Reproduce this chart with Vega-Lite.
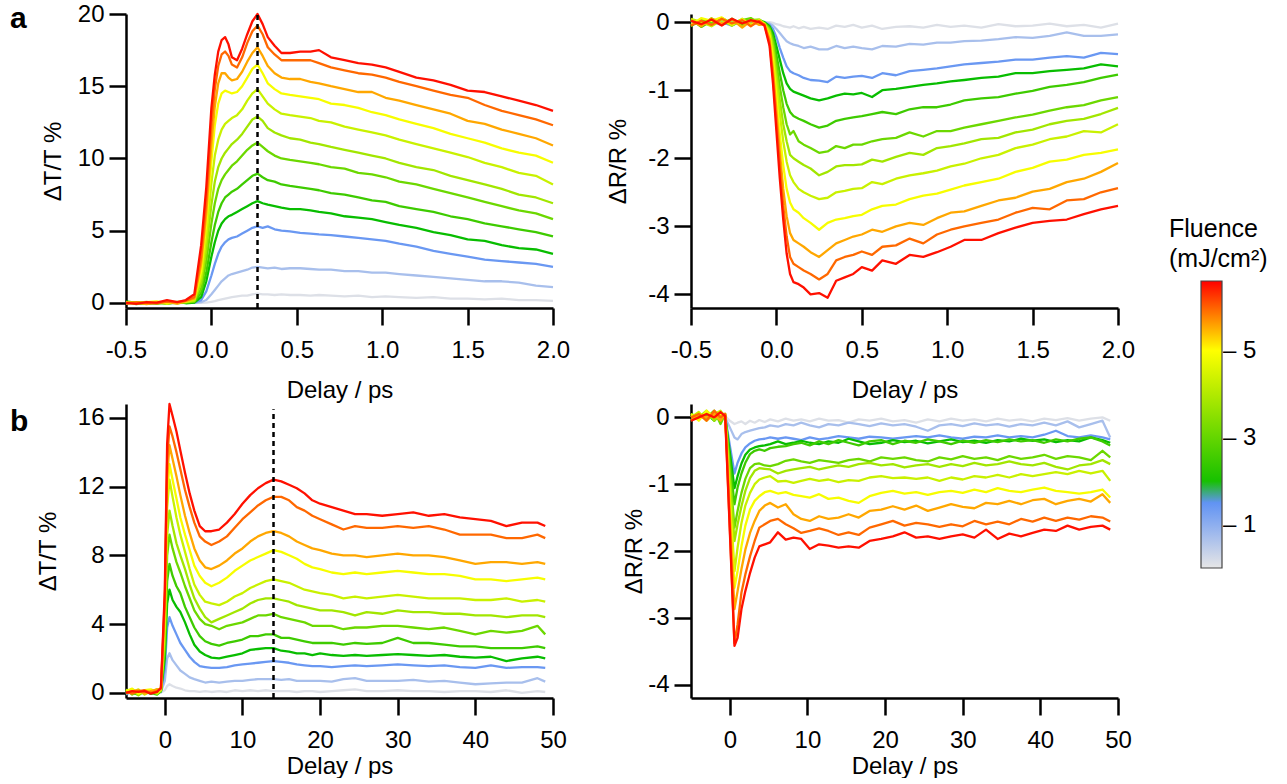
{
"$schema":"https://vega.github.io/schema/vega-lite/v6.json",
"background":"white",
"padding":{"left":10,"top":2,"right":0,"bottom":0},
"bounds":"flush",
"columns":2,
"spacing":{"row":96,"column":138},
"config":{"font":"Liberation Sans","view":{"stroke":null},
"axis":{"domainColor":"#000","domainWidth":2.5,"tickColor":"#000","tickWidth":2.5,"tickSize":17,"labelFont":"Liberation Sans","labelFontSize":24,"labelColor":"#000","titleFont":"Liberation Sans","titleFontSize":24,"titleFontWeight":"normal","titleColor":"#000","grid":false,"labelFlush":false,"labelOverlap":false,"labelPadding":5},
"axisX":{"labelPadding":13},
"legend":{"labelFont":"Liberation Sans","labelFontSize":24,"labelColor":"#000"}},
"title":{"text":["Fluence","(mJ/cm²)"],"anchor":"start","frame":"group","align":"left","baseline":"top","fontSize":25,"font":"Liberation Sans","fontWeight":"normal","color":"#000","lineHeight":30,"dx":1043,"dy":270,"offset":0},
"datasets":{
"fl":[{"k":"a","f":0.1},{"k":"b","f":0.7},{"k":"c","f":1.4},{"k":"d","f":1.8},{"k":"e","f":2.5},{"k":"f","f":3.1},{"k":"g","f":3.8},{"k":"h","f":4.3},{"k":"i","f":4.9},{"k":"j","f":5.55},{"k":"k","f":5.95},{"k":"l","f":6.5}],
"aT":[
{"t":-0.5,"a":0,"b":0.05,"c":-0.05,"d":0.1,"e":0.05,"f":0,"g":0.05,"h":-0.05,"i":0,"j":0.05,"k":-0.05,"l":0},
{"t":-0.44,"a":0.02,"b":-0.03,"c":0.05,"d":0,"e":-0.08,"f":0.05,"g":0,"h":0.06,"i":-0.05,"j":0,"k":0.04,"l":-0.06},
{"t":-0.38,"a":-0.02,"b":0.04,"c":0,"d":-0.06,"e":0.03,"f":-0.05,"g":0.08,"h":0,"i":0.05,"j":-0.08,"k":0,"l":0.05},
{"t":-0.32,"a":0,"b":-0.02,"c":0.06,"d":0.03,"e":-0.04,"f":0.06,"g":-0.05,"h":0.04,"i":0.1,"j":0.02,"k":-0.03,"l":0.02},
{"t":-0.26,"a":0.03,"b":0.02,"c":-0.04,"d":-0.05,"e":0.06,"f":0,"g":0.04,"h":-0.06,"i":-0.02,"j":0.08,"k":0.1,"l":0.2},
{"t":-0.2,"a":-0.02,"b":0,"c":0.03,"d":0.05,"e":0,"f":0.08,"g":-0.03,"h":0.05,"i":0.06,"j":-0.04,"k":0.06,"l":0.05},
{"t":-0.15,"a":0,"b":0.02,"c":0,"d":-0.02,"e":0.05,"f":0.02,"g":0.06,"h":0.08,"i":0.1,"j":0.12,"k":0.15,"l":0.2},
{"t":-0.1,"a":0,"b":0,"c":0.02,"d":0.03,"e":0.05,"f":0.1,"g":0.15,"h":0.2,"i":0.3,"j":0.3,"k":0.4,"l":0.6},
{"t":-0.06,"a":0,"b":0.05,"c":0.2,"d":0.4,"e":0.7,"f":1.0,"g":1.4,"h":1.8,"i":2.2,"j":2.7,"k":3.2,"l":4.0},
{"t":-0.03,"a":0.02,"b":0.2,"c":0.8,"d":1.5,"e":2.1,"f":2.9,"g":3.7,"h":4.5,"i":5.5,"j":6.2,"k":7.0,"l":8.0},
{"t":0,"a":0.08,"b":0.6,"c":1.9,"d":3.2,"e":4.2,"f":5.5,"g":6.8,"h":8.3,"i":9.8,"j":11.0,"k":12.3,"l":13.5},
{"t":0.02,"a":0.12,"b":0.9,"c":2.7,"d":4.2,"e":5.4,"f":6.9,"g":8.4,"h":10.2,"i":12.3,"j":13.6,"k":14.8,"l":15.8},
{"t":0.04,"a":0.2,"b":1.2,"c":3.4,"d":5.0,"e":6.3,"f":7.9,"g":9.4,"h":11.3,"i":13.8,"j":15.2,"k":16.4,"l":17.4},
{"t":0.06,"a":0.25,"b":1.5,"c":3.9,"d":5.5,"e":6.9,"f":8.5,"g":10.0,"h":12.0,"i":14.5,"j":15.9,"k":17.2,"l":18.2},
{"t":0.08,"a":0.3,"b":1.7,"c":4.2,"d":5.8,"e":7.3,"f":8.9,"g":10.4,"h":12.4,"i":14.7,"j":15.9,"k":17.4,"l":18.4},
{"t":0.1,"a":0.35,"b":1.9,"c":4.4,"d":6.0,"e":7.5,"f":9.2,"g":10.7,"h":12.6,"i":14.6,"j":15.6,"k":17.1,"l":17.9},
{"t":0.12,"a":0.4,"b":2.0,"c":4.5,"d":6.1,"e":7.7,"f":9.5,"g":11.0,"h":12.8,"i":14.5,"j":15.4,"k":16.5,"l":17.0},
{"t":0.15,"a":0.45,"b":2.1,"c":4.6,"d":6.3,"e":7.9,"f":9.8,"g":11.3,"h":13.0,"i":14.6,"j":15.5,"k":16.3,"l":16.8},
{"t":0.18,"a":0.5,"b":2.2,"c":4.8,"d":6.5,"e":8.2,"f":10.2,"g":11.7,"h":13.4,"i":15.0,"j":16.0,"k":17.0,"l":17.6},
{"t":0.21,"a":0.5,"b":2.3,"c":5.0,"d":6.7,"e":8.5,"f":10.6,"g":12.2,"h":14.0,"i":15.6,"j":16.7,"k":18.0,"l":18.6},
{"t":0.24,"a":0.6,"b":2.45,"c":5.2,"d":6.9,"e":8.8,"f":10.9,"g":12.7,"h":14.5,"i":16.2,"j":17.3,"k":18.8,"l":19.5},
{"t":0.27,"a":0.64,"b":2.5,"c":5.3,"d":7.05,"e":8.95,"f":11.1,"g":12.9,"h":14.8,"i":16.5,"j":17.7,"k":19.2,"l":20.0},
{"t":0.3,"a":0.6,"b":2.45,"c":5.2,"d":6.9,"e":8.7,"f":10.8,"g":12.6,"h":14.3,"i":15.9,"j":17.1,"k":18.6,"l":19.3},
{"t":0.33,"a":0.6,"b":2.4,"c":5.3,"d":6.8,"e":8.5,"f":10.5,"g":12.1,"h":13.8,"i":15.2,"j":16.4,"k":17.7,"l":18.4},
{"t":0.37,"a":0.55,"b":2.45,"c":5.1,"d":6.7,"e":8.4,"f":10.2,"g":11.8,"h":13.4,"i":14.8,"j":15.9,"k":17.2,"l":17.8},
{"t":0.41,"a":0.6,"b":2.35,"c":5.0,"d":6.6,"e":8.2,"f":10.0,"g":11.6,"h":13.1,"i":14.5,"j":15.6,"k":16.8,"l":17.3},
{"t":0.46,"a":0.55,"b":2.4,"c":4.95,"d":6.5,"e":8.1,"f":9.9,"g":11.4,"h":13.0,"i":14.4,"j":15.5,"k":16.8,"l":17.3},
{"t":0.52,"a":0.55,"b":2.4,"c":4.85,"d":6.5,"e":8.0,"f":9.8,"g":11.3,"h":12.9,"i":14.3,"j":15.5,"k":16.8,"l":17.4},
{"t":0.58,"a":0.5,"b":2.35,"c":4.8,"d":6.4,"e":7.9,"f":9.7,"g":11.1,"h":12.8,"i":14.2,"j":15.3,"k":16.8,"l":17.4},
{"t":0.63,"a":0.55,"b":2.3,"c":4.75,"d":6.3,"e":7.8,"f":9.6,"g":11.0,"h":12.6,"i":14.1,"j":15.2,"k":16.6,"l":17.5},
{"t":0.7,"a":0.5,"b":2.3,"c":4.7,"d":6.2,"e":7.6,"f":9.4,"g":10.8,"h":12.5,"i":13.8,"j":15.0,"k":16.3,"l":17.0},
{"t":0.78,"a":0.45,"b":2.2,"c":4.6,"d":6.0,"e":7.5,"f":9.3,"g":10.6,"h":12.2,"i":13.7,"j":14.8,"k":16.1,"l":16.8},
{"t":0.86,"a":0.5,"b":2.2,"c":4.5,"d":5.9,"e":7.3,"f":9.0,"g":10.4,"h":12.0,"i":13.5,"j":14.6,"k":15.9,"l":16.6},
{"t":0.94,"a":0.4,"b":2.1,"c":4.4,"d":5.8,"e":7.1,"f":8.9,"g":10.2,"h":11.8,"i":13.2,"j":14.6,"k":15.8,"l":16.5},
{"t":1.02,"a":0.45,"b":2.1,"c":4.3,"d":5.6,"e":7.0,"f":8.7,"g":10.0,"h":11.6,"i":13.0,"j":14.2,"k":15.6,"l":16.3},
{"t":1.1,"a":0.4,"b":2.0,"c":4.1,"d":5.4,"e":6.7,"f":8.4,"g":9.7,"h":11.3,"i":12.7,"j":14.0,"k":15.3,"l":16.0},
{"t":1.2,"a":0.35,"b":1.9,"c":3.9,"d":5.2,"e":6.5,"f":8.2,"g":9.4,"h":11.0,"i":12.4,"j":13.7,"k":15.0,"l":15.6},
{"t":1.3,"a":0.4,"b":1.8,"c":3.6,"d":4.9,"e":6.3,"f":7.9,"g":9.2,"h":10.7,"i":12.1,"j":13.4,"k":14.7,"l":15.4},
{"t":1.4,"a":0.3,"b":1.7,"c":3.4,"d":4.7,"e":6.0,"f":7.6,"g":8.8,"h":10.4,"i":11.7,"j":13.1,"k":14.4,"l":15.1},
{"t":1.5,"a":0.3,"b":1.6,"c":3.2,"d":4.4,"e":5.8,"f":7.3,"g":8.5,"h":10.1,"i":11.4,"j":12.6,"k":14.2,"l":14.7},
{"t":1.6,"a":0.25,"b":1.5,"c":3.0,"d":4.3,"e":5.5,"f":7.0,"g":8.2,"h":9.7,"i":11.1,"j":12.4,"k":13.7,"l":14.6},
{"t":1.7,"a":0.3,"b":1.5,"c":2.9,"d":4.0,"e":5.3,"f":6.7,"g":7.9,"h":9.4,"i":10.7,"j":12.0,"k":13.3,"l":14.3},
{"t":1.8,"a":0.2,"b":1.4,"c":2.8,"d":3.8,"e":5.1,"f":6.4,"g":7.5,"h":9.0,"i":10.4,"j":11.7,"k":13.0,"l":14.0},
{"t":1.9,"a":0.2,"b":1.2,"c":2.7,"d":3.7,"e":4.9,"f":6.2,"g":7.3,"h":8.8,"i":10.2,"j":11.4,"k":12.7,"l":13.7},
{"t":2.0,"a":0.14,"b":1.1,"c":2.5,"d":3.4,"e":4.6,"f":5.8,"g":6.9,"h":8.2,"i":9.7,"j":10.9,"k":12.3,"l":13.3}
],
"aR":[
{"t":-0.5,"a":0,"b":-0.02,"c":0.03,"d":-0.05,"e":0.04,"f":-0.06,"g":0.02,"h":0.05,"i":-0.04,"j":0.03,"k":-0.05,"l":0.02},
{"t":-0.44,"a":0.02,"b":0.03,"c":-0.04,"d":0.02,"e":-0.07,"f":0.05,"g":-0.05,"h":0,"i":0.06,"j":-0.06,"k":0.02,"l":-0.03},
{"t":-0.38,"a":-0.02,"b":0,"c":0.05,"d":-0.03,"e":0.02,"f":-0.02,"g":0.06,"h":-0.06,"i":0.02,"j":0.05,"k":-0.04,"l":0.04},
{"t":-0.32,"a":0.01,"b":-0.04,"c":0,"d":0.06,"e":-0.03,"f":0.04,"g":-0.04,"h":0.03,"i":0.07,"j":-0.02,"k":0.05,"l":-0.05},
{"t":-0.26,"a":0,"b":0.02,"c":-0.05,"d":-0.02,"e":0.05,"f":-0.05,"g":0.03,"h":-0.05,"i":-0.03,"j":0.04,"k":-0.02,"l":0.05},
{"t":-0.2,"a":0.02,"b":0,"c":0.03,"d":0.04,"e":-0.04,"f":0.03,"g":-0.06,"h":0.05,"i":0.04,"j":-0.08,"k":0.03,"l":-0.02},
{"t":-0.15,"a":-0.01,"b":0.03,"c":-0.02,"d":-0.04,"e":0.02,"f":0.06,"g":0.03,"h":-0.03,"i":-0.05,"j":0.02,"k":-0.06,"l":0.03},
{"t":-0.1,"a":0,"b":-0.02,"c":0.02,"d":0.03,"e":-0.02,"f":-0.02,"g":0.04,"h":0.02,"i":0.03,"j":-0.04,"k":0.02,"l":0},
{"t":-0.07,"a":0,"b":0,"c":-0.01,"d":0,"e":-0.01,"f":-0.02,"g":-0.02,"h":-0.02,"i":-0.03,"j":-0.03,"k":-0.04,"l":-0.05},
{"t":-0.04,"a":0,"b":-0.02,"c":-0.04,"d":-0.06,"e":-0.08,"f":-0.1,"g":-0.12,"h":-0.15,"i":-0.2,"j":-0.25,"k":-0.3,"l":-0.35},
{"t":-0.02,"a":-0.01,"b":-0.05,"c":-0.1,"d":-0.16,"e":-0.22,"f":-0.28,"g":-0.35,"h":-0.45,"i":-0.55,"j":-0.7,"k":-0.8,"l":-0.9},
{"t":0,"a":-0.03,"b":-0.1,"c":-0.22,"d":-0.35,"e":-0.48,"f":-0.6,"g":-0.75,"h":-0.9,"i":-1.1,"j":-1.3,"k":-1.45,"l":-1.6},
{"t":0.02,"a":-0.04,"b":-0.16,"c":-0.38,"d":-0.55,"e":-0.75,"f":-0.95,"g":-1.15,"h":-1.35,"i":-1.65,"j":-1.9,"k":-2.1,"l":-2.3},
{"t":0.04,"a":-0.06,"b":-0.22,"c":-0.52,"d":-0.75,"e":-1.0,"f":-1.25,"g":-1.5,"h":-1.75,"i":-2.1,"j":-2.45,"k":-2.7,"l":-2.9},
{"t":0.06,"a":-0.07,"b":-0.28,"c":-0.65,"d":-0.9,"e":-1.2,"f":-1.5,"g":-1.75,"h":-2.05,"i":-2.45,"j":-2.85,"k":-3.15,"l":-3.4},
{"t":0.08,"a":-0.08,"b":-0.31,"c":-0.72,"d":-0.98,"e":-1.32,"f":-1.65,"g":-1.95,"h":-2.25,"i":-2.65,"j":-3.1,"k":-3.45,"l":-3.7},
{"t":0.1,"a":-0.06,"b":-0.33,"c":-0.75,"d":-1.02,"e":-1.38,"f":-1.6,"g":-2.0,"h":-2.35,"i":-2.75,"j":-3.2,"k":-3.55,"l":-3.82},
{"t":0.13,"a":-0.09,"b":-0.35,"c":-0.78,"d":-1.05,"e":-1.42,"f":-1.75,"g":-2.05,"h":-2.45,"i":-2.8,"j":-3.25,"k":-3.6,"l":-3.85},
{"t":0.16,"a":-0.07,"b":-0.38,"c":-0.82,"d":-1.08,"e":-1.45,"f":-1.8,"g":-2.1,"h":-2.5,"i":-2.88,"j":-3.3,"k":-3.65,"l":-3.9},
{"t":0.2,"a":-0.1,"b":-0.36,"c":-0.85,"d":-1.12,"e":-1.5,"f":-1.85,"g":-2.15,"h":-2.55,"i":-2.95,"j":-3.38,"k":-3.7,"l":-4.0},
{"t":0.25,"a":-0.08,"b":-0.4,"c":-0.86,"d":-1.15,"e":-1.55,"f":-1.92,"g":-2.25,"h":-2.6,"i":-3.05,"j":-3.45,"k":-3.78,"l":-3.98},
{"t":0.3,"a":-0.1,"b":-0.4,"c":-0.88,"d":-1.12,"e":-1.52,"f":-1.9,"g":-2.2,"h":-2.58,"i":-2.95,"j":-3.35,"k":-3.7,"l":-4.05},
{"t":0.35,"a":-0.05,"b":-0.35,"c":-0.8,"d":-1.08,"e":-1.45,"f":-1.82,"g":-2.12,"h":-2.5,"i":-2.9,"j":-3.25,"k":-3.5,"l":-3.8},
{"t":0.4,"a":-0.07,"b":-0.38,"c":-0.82,"d":-1.05,"e":-1.42,"f":-1.85,"g":-2.1,"h":-2.48,"i":-2.88,"j":-3.2,"k":-3.45,"l":-3.75},
{"t":0.45,"a":-0.04,"b":-0.36,"c":-0.8,"d":-1.06,"e":-1.4,"f":-1.8,"g":-2.1,"h":-2.45,"i":-2.85,"j":-3.15,"k":-3.42,"l":-3.7},
{"t":0.5,"a":-0.08,"b":-0.38,"c":-0.79,"d":-1.04,"e":-1.38,"f":-1.8,"g":-2.09,"h":-2.44,"i":-2.83,"j":-3.12,"k":-3.37,"l":-3.6},
{"t":0.56,"a":-0.05,"b":-0.4,"c":-0.82,"d":-1.1,"e":-1.35,"f":-1.75,"g":-2.02,"h":-2.35,"i":-2.75,"j":-3.05,"k":-3.42,"l":-3.65},
{"t":0.62,"a":-0.1,"b":-0.35,"c":-0.75,"d":-1.0,"e":-1.32,"f":-1.72,"g":-2.05,"h":-2.38,"i":-2.7,"j":-3.08,"k":-3.3,"l":-3.5},
{"t":0.7,"a":-0.07,"b":-0.36,"c":-0.78,"d":-0.98,"e":-1.35,"f":-1.7,"g":-1.98,"h":-2.3,"i":-2.68,"j":-3.0,"k":-3.28,"l":-3.55},
{"t":0.78,"a":-0.06,"b":-0.32,"c":-0.72,"d":-0.95,"e":-1.28,"f":-1.62,"g":-1.92,"h":-2.25,"i":-2.6,"j":-2.95,"k":-3.18,"l":-3.42},
{"t":0.86,"a":-0.08,"b":-0.33,"c":-0.7,"d":-0.92,"e":-1.25,"f":-1.68,"g":-1.95,"h":-2.22,"i":-2.55,"j":-2.98,"k":-3.25,"l":-3.45},
{"t":0.94,"a":-0.04,"b":-0.3,"c":-0.68,"d":-0.9,"e":-1.25,"f":-1.6,"g":-1.85,"h":-2.18,"i":-2.52,"j":-2.88,"k":-3.12,"l":-3.38},
{"t":1.02,"a":-0.07,"b":-0.3,"c":-0.65,"d":-0.87,"e":-1.21,"f":-1.6,"g":-1.82,"h":-2.12,"i":-2.46,"j":-2.8,"k":-3.05,"l":-3.3},
{"t":1.1,"a":-0.05,"b":-0.28,"c":-0.62,"d":-0.85,"e":-1.15,"f":-1.55,"g":-1.78,"h":-2.08,"i":-2.4,"j":-2.78,"k":-3.0,"l":-3.2},
{"t":1.2,"a":-0.08,"b":-0.27,"c":-0.6,"d":-0.82,"e":-1.12,"f":-1.5,"g":-1.72,"h":-2.0,"i":-2.35,"j":-2.7,"k":-2.95,"l":-3.2},
{"t":1.3,"a":-0.03,"b":-0.25,"c":-0.58,"d":-0.8,"e":-1.1,"f":-1.45,"g":-1.7,"h":-1.95,"i":-2.3,"j":-2.62,"k":-2.9,"l":-3.1},
{"t":1.4,"a":-0.06,"b":-0.22,"c":-0.55,"d":-0.75,"e":-1.05,"f":-1.4,"g":-1.62,"h":-1.85,"i":-2.2,"j":-2.58,"k":-2.8,"l":-3.02},
{"t":1.5,"a":-0.05,"b":-0.23,"c":-0.55,"d":-0.75,"e":-1.01,"f":-1.36,"g":-1.58,"h":-1.8,"i":-2.14,"j":-2.49,"k":-2.73,"l":-2.95},
{"t":1.6,"a":-0.02,"b":-0.2,"c":-0.52,"d":-0.72,"e":-0.95,"f":-1.3,"g":-1.5,"h":-1.72,"i":-2.05,"j":-2.45,"k":-2.75,"l":-2.92},
{"t":1.7,"a":-0.06,"b":-0.15,"c":-0.5,"d":-0.7,"e":-0.92,"f":-1.25,"g":-1.45,"h":-1.68,"i":-2.02,"j":-2.35,"k":-2.62,"l":-2.9},
{"t":1.8,"a":-0.04,"b":-0.2,"c":-0.52,"d":-0.68,"e":-0.88,"f":-1.22,"g":-1.42,"h":-1.6,"i":-1.95,"j":-2.3,"k":-2.6,"l":-2.82},
{"t":1.9,"a":-0.08,"b":-0.2,"c":-0.45,"d":-0.62,"e":-0.82,"f":-1.15,"g":-1.35,"h":-1.62,"i":-1.92,"j":-2.2,"k":-2.5,"l":-2.75},
{"t":2.0,"a":-0.02,"b":-0.18,"c":-0.47,"d":-0.65,"e":-0.77,"f":-1.1,"g":-1.26,"h":-1.5,"i":-1.87,"j":-2.07,"k":-2.44,"l":-2.7}
],
"bT":[
{"t":-5,"a":0,"b":0.1,"c":-0.1,"d":0.15,"e":0.05,"f":0.2,"g":-0.05,"h":0.15,"i":0.1,"j":0,"k":0.05,"l":0},
{"t":-4.2,"a":0.05,"b":-0.05,"c":0.1,"d":0,"e":0.2,"f":-0.1,"g":0.15,"h":0.05,"i":0.25,"j":0.1,"k":-0.05,"l":0.1},
{"t":-3.4,"a":-0.05,"b":0.05,"c":0,"d":-0.1,"e":-0.05,"f":0.1,"g":-0.15,"h":0.2,"i":-0.05,"j":0.15,"k":0.1,"l":0.05},
{"t":-2.6,"a":0,"b":-0.05,"c":0.05,"d":0.1,"e":0.15,"f":-0.05,"g":0.1,"h":-0.1,"i":0.15,"j":-0.05,"k":0.15,"l":0.1},
{"t":-1.8,"a":0.05,"b":0.05,"c":-0.05,"d":-0.05,"e":0,"f":0.15,"g":0.05,"h":0.1,"i":0.2,"j":0.1,"k":0,"l":-0.05},
{"t":-1.0,"a":0,"b":0,"c":0.1,"d":0.05,"e":-0.1,"f":0,"g":0.2,"h":-0.05,"i":0.05,"j":0.2,"k":0.1,"l":0.05},
{"t":-0.5,"a":0.02,"b":0.05,"c":0.05,"d":0.1,"e":0.1,"f":0.1,"g":0.15,"h":0.15,"i":0.2,"j":0.2,"k":0.25,"l":0.3},
{"t":0,"a":0.15,"b":0.7,"c":1.4,"d":2.0,"e":2.5,"f":3.0,"g":3.5,"h":4.0,"i":4.5,"j":5.0,"k":5.5,"l":6.0},
{"t":0.3,"a":0.4,"b":2.0,"c":3.8,"d":5.2,"e":6.5,"f":8.0,"g":9.2,"h":10.8,"i":11.5,"j":12.5,"k":13.5,"l":14.5},
{"t":0.6,"a":0.5,"b":2.3,"c":4.4,"d":6.0,"e":7.5,"f":9.2,"g":10.6,"h":12.4,"i":13.3,"j":14.4,"k":15.5,"l":16.8},
{"t":1.0,"a":0.4,"b":1.9,"c":3.9,"d":5.4,"e":6.8,"f":8.4,"g":9.7,"h":11.4,"i":12.4,"j":13.6,"k":14.9,"l":16.1},
{"t":1.5,"a":0.3,"b":1.6,"c":3.4,"d":5.0,"e":6.2,"f":7.6,"g":8.7,"h":10.2,"i":11.3,"j":12.6,"k":14.0,"l":15.2},
{"t":2.0,"a":0.25,"b":1.3,"c":2.9,"d":4.7,"e":5.8,"f":7.0,"g":8.0,"h":9.2,"i":10.2,"j":11.5,"k":13.0,"l":14.1},
{"t":2.6,"a":0.15,"b":1.1,"c":2.5,"d":4.1,"e":5.0,"f":6.2,"g":7.2,"h":8.2,"i":9.2,"j":10.3,"k":11.8,"l":12.8},
{"t":3.2,"a":0.1,"b":0.9,"c":2.1,"d":3.4,"e":4.4,"f":5.5,"g":6.3,"h":7.2,"i":8.3,"j":9.3,"k":10.8,"l":11.6},
{"t":3.8,"a":0.1,"b":0.8,"c":1.8,"d":2.8,"e":3.8,"f":4.8,"g":5.5,"h":6.3,"i":7.4,"j":8.4,"k":9.9,"l":10.6},
{"t":4.5,"a":0.05,"b":0.7,"c":1.55,"d":2.4,"e":3.3,"f":4.3,"g":4.9,"h":5.7,"i":6.8,"j":7.7,"k":9.1,"l":9.7},
{"t":5.2,"a":0.1,"b":0.6,"c":1.5,"d":2.2,"e":3.0,"f":4.0,"g":4.4,"h":5.3,"i":6.4,"j":7.3,"k":8.8,"l":9.4},
{"t":6.0,"a":0.05,"b":0.65,"c":1.45,"d":2.05,"e":2.85,"f":3.9,"g":4.1,"h":5.2,"i":6.2,"j":7.2,"k":8.6,"l":9.4},
{"t":7,"a":0.1,"b":0.6,"c":1.45,"d":2.0,"e":2.75,"f":3.7,"g":4.3,"h":5.1,"i":6.4,"j":7.4,"k":8.8,"l":9.5},
{"t":8,"a":0.05,"b":0.65,"c":1.5,"d":2.1,"e":2.9,"f":3.9,"g":4.5,"h":5.3,"i":6.7,"j":7.7,"k":9.1,"l":9.9},
{"t":9,"a":0.15,"b":0.7,"c":1.6,"d":2.2,"e":3.0,"f":4.0,"g":4.7,"h":5.6,"i":7.1,"j":8.1,"k":9.6,"l":10.4},
{"t":10,"a":0.1,"b":0.7,"c":1.65,"d":2.3,"e":3.1,"f":4.1,"g":4.9,"h":5.8,"i":7.4,"j":8.4,"k":10.1,"l":11.0},
{"t":11,"a":0.15,"b":0.75,"c":1.7,"d":2.5,"e":3.3,"f":4.3,"g":5.2,"h":6.1,"i":7.7,"j":8.8,"k":10.5,"l":11.5},
{"t":12,"a":0.1,"b":0.8,"c":1.75,"d":2.55,"e":3.3,"f":4.5,"g":5.4,"h":6.3,"i":7.9,"j":9.1,"k":10.9,"l":11.9},
{"t":13,"a":0.15,"b":0.8,"c":1.8,"d":2.6,"e":3.4,"f":4.5,"g":5.5,"h":6.5,"i":8.1,"j":9.3,"k":11.2,"l":12.2},
{"t":14,"a":0.1,"b":0.8,"c":1.85,"d":2.6,"e":3.4,"f":4.6,"g":5.5,"h":6.6,"i":8.3,"j":9.4,"k":11.4,"l":12.4},
{"t":15,"a":0.1,"b":0.75,"c":1.8,"d":2.45,"e":3.2,"f":4.4,"g":5.4,"h":6.5,"i":8.2,"j":9.3,"k":11.4,"l":12.3},
{"t":16,"a":0.1,"b":0.8,"c":1.75,"d":2.4,"e":3.2,"f":4.3,"g":5.3,"h":6.4,"i":8.0,"j":9.1,"k":11.2,"l":12.1},
{"t":17,"a":0.05,"b":0.7,"c":1.65,"d":2.3,"e":3.1,"f":4.2,"g":5.1,"h":6.2,"i":7.8,"j":8.8,"k":10.8,"l":11.9},
{"t":18,"a":0.1,"b":0.7,"c":1.6,"d":2.3,"e":3.0,"f":4.1,"g":5.0,"h":6.0,"i":7.5,"j":8.6,"k":10.6,"l":11.6},
{"t":19,"a":0.1,"b":0.7,"c":1.55,"d":2.2,"e":2.9,"f":3.9,"g":4.9,"h":5.9,"i":7.3,"j":8.4,"k":10.3,"l":11.2},
{"t":20,"a":0.05,"b":0.7,"c":1.55,"d":2.3,"e":2.9,"f":3.9,"g":4.8,"h":5.8,"i":7.2,"j":8.3,"k":10.1,"l":11.0},
{"t":21.5,"a":0.1,"b":0.65,"c":1.5,"d":2.2,"e":2.9,"f":3.9,"g":4.8,"h":5.7,"i":7.0,"j":8.1,"k":9.8,"l":10.8},
{"t":23,"a":0.15,"b":0.8,"c":1.55,"d":2.15,"e":2.8,"f":3.7,"g":4.7,"h":5.5,"i":6.9,"j":8.0,"k":9.5,"l":10.6},
{"t":24.5,"a":0.2,"b":0.85,"c":1.6,"d":2.2,"e":2.9,"f":3.8,"g":4.5,"h":5.6,"i":7.0,"j":8.0,"k":9.7,"l":10.4},
{"t":26,"a":0.1,"b":0.7,"c":1.55,"d":2.15,"e":2.85,"f":3.8,"g":4.7,"h":5.5,"i":6.9,"j":7.9,"k":9.6,"l":10.4},
{"t":28,"a":0.1,"b":0.7,"c":1.6,"d":2.2,"e":2.9,"f":3.9,"g":4.6,"h":5.6,"i":7.0,"j":8.0,"k":9.6,"l":10.3},
{"t":30,"a":0.15,"b":0.7,"c":1.65,"d":2.25,"e":3.2,"f":3.9,"g":4.8,"h":5.7,"i":7.1,"j":8.1,"k":9.7,"l":10.4},
{"t":32,"a":0.1,"b":0.75,"c":1.6,"d":2.2,"e":2.9,"f":3.8,"g":4.7,"h":5.6,"i":7.0,"j":8.0,"k":9.6,"l":10.5},
{"t":34,"a":0.1,"b":0.65,"c":1.55,"d":2.15,"e":2.9,"f":3.7,"g":4.7,"h":5.5,"i":6.9,"j":8.0,"k":9.7,"l":10.3},
{"t":36,"a":0.05,"b":0.7,"c":1.6,"d":2.2,"e":2.8,"f":3.8,"g":4.6,"h":5.5,"i":6.9,"j":7.9,"k":9.5,"l":10.4},
{"t":38,"a":0.1,"b":0.6,"c":1.5,"d":2.1,"e":2.7,"f":3.6,"g":4.6,"h":5.5,"i":6.8,"j":7.7,"k":9.2,"l":10.2},
{"t":40,"a":0.1,"b":0.5,"c":1.45,"d":2.05,"e":2.7,"f":3.4,"g":4.5,"h":5.4,"i":6.6,"j":7.5,"k":9.2,"l":10.1},
{"t":42,"a":0.05,"b":0.55,"c":1.6,"d":2.1,"e":2.6,"f":3.6,"g":4.5,"h":5.4,"i":6.6,"j":7.6,"k":9.2,"l":10.0},
{"t":44,"a":0.15,"b":0.6,"c":1.45,"d":1.85,"e":2.6,"f":3.5,"g":4.4,"h":5.5,"i":6.5,"j":7.6,"k":9.0,"l":9.7},
{"t":46,"a":0.0,"b":0.6,"c":1.5,"d":2.0,"e":2.6,"f":3.6,"g":4.5,"h":5.3,"i":6.6,"j":7.5,"k":9.0,"l":9.9},
{"t":48,"a":0.1,"b":0.85,"c":1.5,"d":2.1,"e":2.7,"f":3.9,"g":4.5,"h":5.4,"i":6.7,"j":7.6,"k":9.2,"l":9.9},
{"t":49,"a":0.05,"b":0.65,"c":1.45,"d":2.0,"e":2.6,"f":3.4,"g":4.4,"h":5.3,"i":6.6,"j":7.5,"k":9.0,"l":9.7}
],
"bR":[
{"t":-5,"a":0,"b":0.02,"c":0,"d":0.05,"e":0,"f":-0.05,"g":0.05,"h":0,"i":0.05,"j":-0.05,"k":0,"l":-0.05},
{"t":-4,"a":0.02,"b":0,"c":0.03,"d":0,"e":0.05,"f":0.05,"g":0,"h":0.08,"i":-0.05,"j":0.05,"k":0.05,"l":0},
{"t":-3,"a":-0.02,"b":0.03,"c":0,"d":0.05,"e":0,"f":0,"g":0.1,"h":-0.05,"i":0.1,"j":0,"k":-0.05,"l":0.05},
{"t":-2,"a":0.02,"b":0,"c":0.02,"d":-0.05,"e":0.05,"f":0.1,"g":-0.05,"h":0.05,"i":0,"j":0.05,"k":0.1,"l":0},
{"t":-1.2,"a":0,"b":0.02,"c":0,"d":0.05,"e":0.05,"f":-0.1,"g":0.05,"h":0.1,"i":0.05,"j":-0.05,"k":0,"l":0.08},
{"t":-0.6,"a":0.02,"b":0,"c":0.02,"d":0,"e":0,"f":0.05,"g":0.05,"h":0,"i":0,"j":0.05,"k":0.05,"l":0.02},
{"t":0,"a":-0.05,"b":-0.15,"c":-0.42,"d":-0.52,"e":-0.65,"f":-0.8,"g":-0.9,"h":-1.15,"i":-1.25,"j":-1.4,"k":-1.65,"l":-1.7},
{"t":0.6,"a":-0.1,"b":-0.3,"c":-0.84,"d":-1.06,"e":-1.3,"f":-1.65,"g":-1.85,"h":-2.3,"i":-2.55,"j":-2.87,"k":-3.38,"l":-3.42},
{"t":1.0,"a":-0.08,"b":-0.33,"c":-0.68,"d":-0.88,"e":-1.05,"f":-1.4,"g":-1.6,"h":-1.95,"i":-2.3,"j":-2.6,"k":-3.1,"l":-3.3},
{"t":1.5,"a":-0.06,"b":-0.25,"c":-0.54,"d":-0.69,"e":-0.84,"f":-1.13,"g":-1.33,"h":-1.58,"i":-1.93,"j":-2.27,"k":-2.62,"l":-2.87},
{"t":2.0,"a":-0.1,"b":-0.22,"c":-0.45,"d":-0.56,"e":-0.68,"f":-0.92,"g":-1.1,"h":-1.32,"i":-1.62,"j":-1.98,"k":-2.35,"l":-2.6},
{"t":2.6,"a":-0.05,"b":-0.2,"c":-0.39,"d":-0.48,"e":-0.55,"f":-0.76,"g":-0.91,"h":-1.13,"i":-1.38,"j":-1.73,"k":-2.08,"l":-2.33},
{"t":3.2,"a":-0.08,"b":-0.18,"c":-0.35,"d":-0.45,"e":-0.5,"f":-0.7,"g":-0.8,"h":-1.0,"i":-1.25,"j":-1.55,"k":-1.85,"l":-2.1},
{"t":3.8,"a":-0.04,"b":-0.16,"c":-0.33,"d":-0.43,"e":-0.48,"f":-0.69,"g":-0.76,"h":-0.93,"i":-1.18,"j":-1.4,"k":-1.65,"l":-1.93},
{"t":4.5,"a":-0.07,"b":-0.15,"c":-0.32,"d":-0.42,"e":-0.5,"f":-0.72,"g":-0.77,"h":-0.9,"i":-1.12,"j":-1.32,"k":-1.6,"l":-1.9},
{"t":5.2,"a":-0.03,"b":-0.12,"c":-0.3,"d":-0.4,"e":-0.46,"f":-0.73,"g":-0.78,"h":-0.88,"i":-1.1,"j":-1.28,"k":-1.55,"l":-1.87},
{"t":6.2,"a":-0.06,"b":-0.14,"c":-0.32,"d":-0.36,"e":-0.44,"f":-0.7,"g":-0.84,"h":-0.96,"i":-1.14,"j":-1.35,"k":-1.52,"l":-1.72},
{"t":7.2,"a":-0.02,"b":-0.1,"c":-0.3,"d":-0.4,"e":-0.43,"f":-0.65,"g":-0.8,"h":-0.95,"i":-1.12,"j":-1.3,"k":-1.6,"l":-1.83},
{"t":8.2,"a":-0.05,"b":-0.12,"c":-0.32,"d":-0.38,"e":-0.4,"f":-0.63,"g":-0.78,"h":-0.98,"i":-1.16,"j":-1.45,"k":-1.66,"l":-1.8},
{"t":9.2,"a":-0.03,"b":-0.08,"c":-0.34,"d":-0.35,"e":-0.38,"f":-0.66,"g":-0.76,"h":-0.95,"i":-1.18,"j":-1.52,"k":-1.73,"l":-1.82},
{"t":10.3,"a":-0.06,"b":-0.12,"c":-0.3,"d":-0.38,"e":-0.42,"f":-0.68,"g":-0.74,"h":-0.92,"i":-1.2,"j":-1.55,"k":-1.7,"l":-1.97},
{"t":11.5,"a":-0.02,"b":-0.15,"c":-0.33,"d":-0.4,"e":-0.36,"f":-0.64,"g":-0.78,"h":-0.95,"i":-1.15,"j":-1.48,"k":-1.66,"l":-1.9},
{"t":12.7,"a":-0.05,"b":-0.1,"c":-0.31,"d":-0.36,"e":-0.4,"f":-0.66,"g":-0.75,"h":-0.93,"i":-1.22,"j":-1.52,"k":-1.7,"l":-1.92},
{"t":14,"a":-0.04,"b":-0.12,"c":-0.28,"d":-0.38,"e":-0.34,"f":-0.68,"g":-0.72,"h":-0.97,"i":-1.2,"j":-1.5,"k":-1.76,"l":-1.95},
{"t":15.3,"a":-0.08,"b":-0.08,"c":-0.3,"d":-0.32,"e":-0.38,"f":-0.64,"g":-0.74,"h":-0.94,"i":-1.25,"j":-1.45,"k":-1.72,"l":-1.93},
{"t":16.6,"a":-0.03,"b":-0.1,"c":-0.32,"d":-0.36,"e":-0.42,"f":-0.62,"g":-0.7,"h":-0.95,"i":-1.28,"j":-1.5,"k":-1.76,"l":-1.95},
{"t":18,"a":-0.05,"b":-0.13,"c":-0.29,"d":-0.4,"e":-0.36,"f":-0.66,"g":-0.68,"h":-0.9,"i":-1.18,"j":-1.4,"k":-1.65,"l":-1.85},
{"t":19.5,"a":-0.02,"b":-0.09,"c":-0.3,"d":-0.38,"e":-0.34,"f":-0.6,"g":-0.72,"h":-0.88,"i":-1.13,"j":-1.38,"k":-1.6,"l":-1.82},
{"t":21,"a":-0.06,"b":-0.12,"c":-0.32,"d":-0.34,"e":-0.4,"f":-0.62,"g":-0.7,"h":-0.91,"i":-1.1,"j":-1.33,"k":-1.55,"l":-1.78},
{"t":22.5,"a":-0.04,"b":-0.1,"c":-0.3,"d":-0.37,"e":-0.35,"f":-0.6,"g":-0.75,"h":-0.9,"i":-1.14,"j":-1.38,"k":-1.62,"l":-1.72},
{"t":24,"a":-0.08,"b":-0.14,"c":-0.28,"d":-0.35,"e":-0.38,"f":-0.64,"g":-0.72,"h":-0.92,"i":-1.12,"j":-1.32,"k":-1.58,"l":-1.8},
{"t":25.5,"a":-0.03,"b":-0.2,"c":-0.3,"d":-0.39,"e":-0.33,"f":-0.66,"g":-0.7,"h":-0.9,"i":-1.16,"j":-1.4,"k":-1.6,"l":-1.78},
{"t":27,"a":-0.06,"b":-0.12,"c":-0.27,"d":-0.36,"e":-0.36,"f":-0.6,"g":-0.74,"h":-0.95,"i":-1.12,"j":-1.35,"k":-1.64,"l":-1.82},
{"t":28.5,"a":-0.02,"b":-0.1,"c":-0.3,"d":-0.33,"e":-0.4,"f":-0.63,"g":-0.7,"h":-0.9,"i":-1.1,"j":-1.3,"k":-1.6,"l":-1.78},
{"t":30,"a":-0.05,"b":-0.13,"c":-0.32,"d":-0.37,"e":-0.35,"f":-0.58,"g":-0.73,"h":-0.93,"i":-1.13,"j":-1.34,"k":-1.63,"l":-1.75},
{"t":31.5,"a":-0.03,"b":-0.09,"c":-0.29,"d":-0.35,"e":-0.38,"f":-0.62,"g":-0.68,"h":-0.88,"i":-1.08,"j":-1.36,"k":-1.55,"l":-1.8},
{"t":33,"a":-0.06,"b":-0.12,"c":-0.3,"d":-0.38,"e":-0.34,"f":-0.6,"g":-0.72,"h":-0.9,"i":-1.12,"j":-1.28,"k":-1.6,"l":-1.68},
{"t":34.5,"a":-0.02,"b":-0.1,"c":-0.27,"d":-0.34,"e":-0.37,"f":-0.64,"g":-0.7,"h":-0.86,"i":-1.06,"j":-1.3,"k":-1.56,"l":-1.82},
{"t":36,"a":-0.05,"b":-0.14,"c":-0.3,"d":-0.36,"e":-0.33,"f":-0.58,"g":-0.66,"h":-0.9,"i":-1.1,"j":-1.25,"k":-1.6,"l":-1.74},
{"t":37.5,"a":-0.03,"b":-0.1,"c":-0.28,"d":-0.32,"e":-0.36,"f":-0.62,"g":-0.7,"h":-0.85,"i":-1.12,"j":-1.3,"k":-1.52,"l":-1.78},
{"t":39,"a":-0.06,"b":-0.12,"c":-0.3,"d":-0.35,"e":-0.34,"f":-0.6,"g":-0.72,"h":-0.88,"i":-1.08,"j":-1.24,"k":-1.56,"l":-1.73},
{"t":40.5,"a":-0.02,"b":-0.08,"c":-0.26,"d":-0.33,"e":-0.38,"f":-0.56,"g":-0.68,"h":-0.85,"i":-1.05,"j":-1.22,"k":-1.5,"l":-1.68},
{"t":42,"a":-0.04,"b":-0.12,"c":-0.2,"d":-0.37,"e":-0.33,"f":-0.62,"g":-0.74,"h":-0.82,"i":-1.1,"j":-1.3,"k":-1.55,"l":-1.7},
{"t":43.5,"a":-0.01,"b":-0.06,"c":-0.28,"d":-0.34,"e":-0.36,"f":-0.58,"g":-0.78,"h":-0.85,"i":-1.12,"j":-1.25,"k":-1.5,"l":-1.62},
{"t":45,"a":-0.05,"b":-0.15,"c":-0.3,"d":-0.36,"e":-0.32,"f":-0.6,"g":-0.72,"h":-0.8,"i":-1.14,"j":-1.22,"k":-1.53,"l":-1.68},
{"t":46.5,"a":-0.02,"b":-0.1,"c":-0.27,"d":-0.3,"e":-0.3,"f":-0.64,"g":-0.7,"h":-0.84,"i":-1.12,"j":-1.26,"k":-1.48,"l":-1.64},
{"t":48,"a":0.0,"b":-0.05,"c":-0.3,"d":-0.34,"e":-0.36,"f":-0.5,"g":-0.64,"h":-0.8,"i":-1.08,"j":-1.15,"k":-1.5,"l":-1.62},
{"t":49,"a":-0.05,"b":-0.3,"c":-0.33,"d":-0.38,"e":-0.42,"f":-0.6,"g":-0.7,"h":-0.95,"i":-1.2,"j":-1.28,"k":-1.56,"l":-1.68}
]
},
"concat":[
{"width":427,"height":294,
"layer":[
{"data":{"name":"aT"},
"transform":[{"fold":["a","b","c","d","e","f","g","h","i","j","k","l"],"as":["k","v"]},{"lookup":"k","from":{"data":{"name":"fl"},"key":"k","fields":["f"]}}],
"mark":{"type":"line","strokeWidth":2.3,"strokeJoin":"round"},
"encoding":{
"x":{"field":"t","type":"quantitative","scale":{"domain":[-0.5,2],"nice":false,"zero":false},"axis":{"title":"Delay / ps","values":[-0.5,0,0.5,1,1.5,2],"format":".1f","labelExpr":"replace(datum.label,'−','-')","labelFlush":false,"titlePadding":16}},
"y":{"field":"v","type":"quantitative","scale":{"domain":[-0.35,20],"nice":false,"zero":false},"axis":{"title":"ΔT/T %","values":[0,5,10,15,20],"titlePadding":12}},
"color":{"field":"f","type":"quantitative","scale":{"type":"linear","domain":[0,1.69,1.7,5,6.6],"range":["#e6e6e6","#5088f5","#00bb00","#ffff00","#ff0000"],"interpolate":"rgb","nice":false,"zero":false},"legend":{"orient":"none","legendX":1075,"legendY":267,"title":null,"values":[1,3,5],"gradientLength":287,"gradientThickness":21,"gradientStrokeColor":"#444","gradientStrokeWidth":1.2,"labelExpr":"'– ' + datum.label","labelOffset":1,"labelFontSize":24,"padding":0,"direction":"vertical"}},
"detail":{"field":"k"}}},
{"data":{"values":[{"t":0.27,"y0":-0.35,"y1":20}]},
"mark":{"type":"rule","color":"#000","strokeWidth":2.5,"strokeDash":[5,4]},
"encoding":{"x":{"field":"t","type":"quantitative"},"y":{"field":"y0","type":"quantitative"},"y2":{"field":"y1"}}},
{"data":{"values":[{"t":-0.5,"y":20,"s":"a"}]},
"mark":{"type":"text","fontSize":30,"fontWeight":"bold","align":"left","baseline":"alphabetic","dx":-116,"dy":14,"color":"#000"},
"encoding":{"x":{"field":"t","type":"quantitative"},"y":{"field":"y","type":"quantitative"},"text":{"field":"s"}}}
]},
{"width":427,"height":294,
"layer":[
{"data":{"name":"aR"},
"transform":[{"fold":["a","b","c","d","e","f","g","h","i","j","k","l"],"as":["k","v"]},{"lookup":"k","from":{"data":{"name":"fl"},"key":"k","fields":["f"]}}],
"mark":{"type":"line","strokeWidth":2.3,"strokeJoin":"round"},
"encoding":{
"x":{"field":"t","type":"quantitative","scale":{"domain":[-0.5,2],"nice":false,"zero":false},"axis":{"title":"Delay / ps","values":[-0.5,0,0.5,1,1.5,2],"format":".1f","labelExpr":"replace(datum.label,'−','-')","labelFlush":false,"titlePadding":16}},
"y":{"field":"v","type":"quantitative","scale":{"domain":[-4.2,0.12],"nice":false,"zero":false},"axis":{"title":"ΔR/R %","values":[0,-1,-2,-3,-4],"format":"d","labelExpr":"replace(datum.label,'−','-')","titlePadding":17}},
"color":{"field":"f","type":"quantitative","scale":{"type":"linear","domain":[0,1.69,1.7,5,6.6],"range":["#e6e6e6","#5088f5","#00bb00","#ffff00","#ff0000"],"interpolate":"rgb","nice":false,"zero":false},"legend":{"orient":"none","legendX":1075,"legendY":267,"title":null,"values":[1,3,5],"gradientLength":287,"gradientThickness":21,"gradientStrokeColor":"#444","gradientStrokeWidth":1.2,"labelExpr":"'– ' + datum.label","labelOffset":1,"labelFontSize":24,"padding":0,"direction":"vertical"}},
"detail":{"field":"k"}}}
]},
{"width":427,"height":294,
"layer":[
{"data":{"name":"bT"},
"transform":[{"fold":["a","b","c","d","e","f","g","h","i","j","k","l"],"as":["k","v"]},{"lookup":"k","from":{"data":{"name":"fl"},"key":"k","fields":["f"]}}],
"mark":{"type":"line","strokeWidth":2.3,"strokeJoin":"round"},
"encoding":{
"x":{"field":"t","type":"quantitative","scale":{"domain":[-5,50],"nice":false,"zero":false},"axis":{"title":"Delay / ps","values":[0,10,20,30,40,50],"format":"d","labelFlush":false,"titlePadding":2}},
"y":{"field":"v","type":"quantitative","scale":{"domain":[-0.3,16.8],"nice":false,"zero":false},"axis":{"title":"ΔT/T %","values":[0,2,4,6,8,10,12,14,16],"labelExpr":"datum.value % 4 == 0 ? datum.label : ''","tickSize":{"condition":{"test":"datum.value % 4 == 0","value":17},"value":9},"titlePadding":17}},
"color":{"field":"f","type":"quantitative","scale":{"type":"linear","domain":[0,1.69,1.7,5,6.6],"range":["#e6e6e6","#5088f5","#00bb00","#ffff00","#ff0000"],"interpolate":"rgb","nice":false,"zero":false},"legend":{"orient":"none","legendX":1075,"legendY":267,"title":null,"values":[1,3,5],"gradientLength":287,"gradientThickness":21,"gradientStrokeColor":"#444","gradientStrokeWidth":1.2,"labelExpr":"'– ' + datum.label","labelOffset":1,"labelFontSize":24,"padding":0,"direction":"vertical"}},
"detail":{"field":"k"}}},
{"data":{"values":[{"t":14,"y0":-0.3,"y1":16.5}]},
"mark":{"type":"rule","color":"#000","strokeWidth":2.5,"strokeDash":[5,4]},
"encoding":{"x":{"field":"t","type":"quantitative"},"y":{"field":"y0","type":"quantitative"},"y2":{"field":"y1"}}},
{"data":{"values":[{"t":-5,"y":16.8,"s":"b"}]},
"mark":{"type":"text","fontSize":30,"fontWeight":"bold","align":"left","baseline":"alphabetic","dx":-116,"dy":27,"color":"#000"},
"encoding":{"x":{"field":"t","type":"quantitative"},"y":{"field":"y","type":"quantitative"},"text":{"field":"s"}}}
]},
{"width":427,"height":294,
"layer":[
{"data":{"name":"bR"},
"transform":[{"fold":["a","b","c","d","e","f","g","h","i","j","k","l"],"as":["k","v"]},{"lookup":"k","from":{"data":{"name":"fl"},"key":"k","fields":["f"]}}],
"mark":{"type":"line","strokeWidth":2.3,"strokeJoin":"round"},
"encoding":{
"x":{"field":"t","type":"quantitative","scale":{"domain":[-5,50],"nice":false,"zero":false},"axis":{"title":"Delay / ps","values":[0,10,20,30,40,50],"format":"d","labelFlush":false,"titlePadding":2}},
"y":{"field":"v","type":"quantitative","scale":{"domain":[-4.2,0.2],"nice":false,"zero":false},"axis":{"title":"ΔR/R %","values":[0,-1,-2,-3,-4],"format":"d","labelExpr":"replace(datum.label,'−','-')","titlePadding":1}},
"color":{"field":"f","type":"quantitative","scale":{"type":"linear","domain":[0,1.69,1.7,5,6.6],"range":["#e6e6e6","#5088f5","#00bb00","#ffff00","#ff0000"],"interpolate":"rgb","nice":false,"zero":false},"legend":{"orient":"none","legendX":1075,"legendY":267,"title":null,"values":[1,3,5],"gradientLength":287,"gradientThickness":21,"gradientStrokeColor":"#444","gradientStrokeWidth":1.2,"labelExpr":"'– ' + datum.label","labelOffset":1,"labelFontSize":24,"padding":0,"direction":"vertical"}},
"detail":{"field":"k"}}}
]}
]
}
